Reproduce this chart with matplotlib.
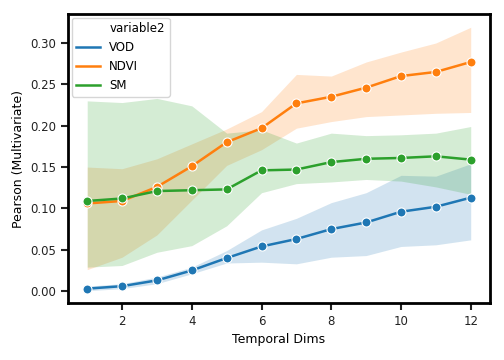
import numpy as np
import matplotlib
matplotlib.use("Agg")
import matplotlib.pyplot as plt
from matplotlib.lines import Line2D

dims = np.arange(1, 13)

vod = [0.003, 0.006, 0.013, 0.025, 0.040, 0.054, 0.063, 0.075, 0.083, 0.096, 0.102, 0.113]
vod_lo = [0.0005, 0.003, 0.009, 0.021, 0.034, 0.035, 0.033, 0.041, 0.043, 0.054, 0.056, 0.062]
vod_hi = [0.006, 0.009, 0.017, 0.029, 0.049, 0.074, 0.088, 0.107, 0.119, 0.140, 0.139, 0.154]

ndvi = [0.106, 0.109, 0.126, 0.151, 0.180, 0.197, 0.227, 0.235, 0.246, 0.260, 0.265, 0.277]
ndvi_lo = [0.026, 0.041, 0.068, 0.110, 0.152, 0.171, 0.197, 0.205, 0.211, 0.213, 0.215, 0.216]
ndvi_hi = [0.150, 0.148, 0.160, 0.178, 0.196, 0.217, 0.262, 0.260, 0.277, 0.289, 0.300, 0.319]

sm = [0.109, 0.112, 0.121, 0.122, 0.123, 0.146, 0.147, 0.156, 0.160, 0.161, 0.163, 0.159]
sm_lo = [0.029, 0.031, 0.047, 0.055, 0.079, 0.119, 0.130, 0.132, 0.135, 0.133, 0.126, 0.117]
sm_hi = [0.230, 0.228, 0.233, 0.224, 0.191, 0.195, 0.179, 0.191, 0.188, 0.189, 0.191, 0.199]

series = [("VOD", vod, vod_lo, vod_hi, "#1f77b4"),
          ("NDVI", ndvi, ndvi_lo, ndvi_hi, "#ff7f0e"),
          ("SM", sm, sm_lo, sm_hi, "#2ca02c")]

plt.rcParams["font.family"] = "DejaVu Sans"
fig = plt.figure(figsize=(5.04, 3.6), dpi=100)
ax = fig.add_axes([0.135, 0.158, 0.837, 0.803])

handles = [Line2D([], [], linestyle="none")]
labels = ["variable2"]
for name, y, lo, hi, c in series:
    ax.fill_between(dims, lo, hi, color=c, alpha=0.2, linewidth=0)
    ln, = ax.plot(dims, y, color=c, lw=1.8, marker="o", markersize=6.5,
                  markeredgecolor="white", markeredgewidth=0.8)
    handles.append(Line2D([], [], color=c, lw=1.8))
    labels.append(name)

ax.set_xlim(0.45, 12.55)
ax.set_ylim(-0.0145, 0.335)
ax.set_yticks(np.arange(0, 0.31, 0.05))
ax.set_xticks([2, 4, 6, 8, 10, 12])
ax.tick_params(labelsize=8.5, length=5, width=1.5, colors="#222222")
for s in ax.spines.values():
    s.set_linewidth(2)
ax.set_xlabel("Temporal Dims", fontsize=9)
ax.set_ylabel("Pearson (Multivariate)", fontsize=9)
ax.legend(handles, labels, loc="upper left", fontsize=8.5, handlelength=2.0,
          frameon=True, framealpha=0.8, borderaxespad=0.3)

fig.savefig("out.png", dpi=100)
